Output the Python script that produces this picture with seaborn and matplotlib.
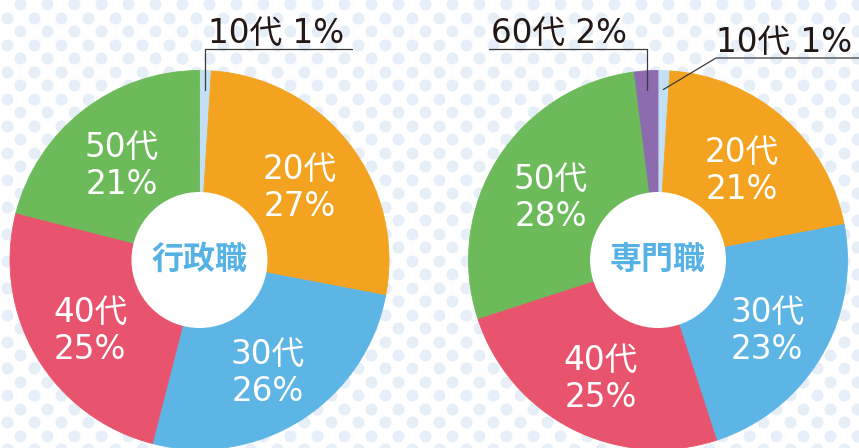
import numpy as np
import matplotlib
matplotlib.use("Agg")
import matplotlib.pyplot as plt
from matplotlib.patches import Circle
import seaborn as sns

# ---- data ----
left_title = "行政職"
left_labels = ["10代", "20代", "30代", "40代", "50代"]
left_values = [1, 27, 26, 25, 21]

right_title = "専門職"
right_labels = ["10代", "20代", "30代", "40代", "50代", "60代"]
right_values = [1, 21, 23, 25, 28, 2]

age_colors = {"10代": "#c3dff3", "20代": "#f3a31f", "30代": "#5db5e6",
              "40代": "#e8546d", "50代": "#6cba5a", "60代": "#8d6baf"}

sns.set_theme(style="white")
plt.rcParams['font.family'] = ['Noto Sans CJK JP', 'DejaVu Sans']
NUMFONT = ['DejaVu Sans', 'Noto Sans CJK JP']

W, H = 859, 448
fig = plt.figure(figsize=(W / 100, H / 100), dpi=100)
fig.patch.set_facecolor("white")
ax = fig.add_axes([0, 0, 1, 1])

# dotted background
rows = np.arange(4, H + 14, 13.5)
xs, ys = [], []
for k, yy in enumerate(rows):
    off = 20 if k % 2 == 0 else 6.5
    xx = np.arange(off, W + 14, 27)
    xs.extend(xx)
    ys.extend([H - yy] * len(xx))
ax.scatter(xs, ys, s=75, color="#e6eef8", linewidths=0, zorder=0)

R = 189.5
HOLE = 68
TXT = 23.5


def draw(cx, cy, labels, values, title, outside):
    pal = sns.color_palette([age_colors[l] for l in labels])
    wedges, _ = ax.pie(values, colors=pal, startangle=90, counterclock=False,
                       center=(cx, H - cy), radius=R, frame=True,
                       wedgeprops=dict(linewidth=0.6))
    for w in wedges:
        w.set_edgecolor(w.get_facecolor())
        w.set_zorder(2)
    ax.add_patch(Circle((cx, H - cy), HOLE, facecolor="white", edgecolor="none", zorder=3))
    ax.text(cx, H - cy, title, ha="center", va="center", fontsize=23,
            fontweight="bold", color="#56b2e4", zorder=4)
    anchors = {}
    for w, lab, v in zip(wedges, labels, values):
        th = np.deg2rad((w.theta1 + w.theta2) / 2)
        if lab in outside:
            anchors[lab] = (cx + 0.9 * R * np.cos(th), H - cy + 0.9 * R * np.sin(th))
            continue
        d = 0.67 * R
        ax.text(cx + d * np.cos(th), H - cy + d * np.sin(th) - 6, f"{lab}\n{v}%",
                ha="center", va="center", fontsize=TXT, color="white",
                family=NUMFONT, linespacing=1.15, zorder=4)
    return anchors


lv = dict(zip(left_labels, left_values))
rv = dict(zip(right_labels, right_values))

a1 = draw(199.5, 260, left_labels, left_values, left_title, ["10代"])
a2 = draw(658, 260, right_labels, right_values, right_title, ["10代", "60代"])

lc = "#3a3a3a"
lw = 0.9
# left 10代
x0, y0 = a1["10代"]
ax.plot([x0, x0, 352], [y0, H - 49, H - 49], color=lc, lw=lw, zorder=5)
ax.text(x0 + 3, H - 43, f"10代 {lv['10代']}%", ha="left", va="baseline",
        fontsize=TXT, color="#231815", family=NUMFONT, zorder=5)
# right 60代
x0, y0 = a2["60代"]
ax.plot([x0, x0, 489], [y0, H - 49, H - 49], color=lc, lw=lw, zorder=5)
ax.text(491, H - 43, f"60代 {rv['60代']}%", ha="left", va="baseline",
        fontsize=TXT, color="#231815", family=NUMFONT, zorder=5)
# right 10代
x0, y0 = a2["10代"]
ax.plot([x0, 716, W], [y0, H - 58, H - 58], color=lc, lw=lw, zorder=5)
ax.text(716, H - 52, f"10代 {rv['10代']}%", ha="left", va="baseline",
        fontsize=TXT, color="#231815", family=NUMFONT, zorder=5)

ax.set_xlim(0, W)
ax.set_ylim(0, H)
ax.set_aspect("equal")
ax.axis("off")
fig.savefig("out.png", dpi=100)
